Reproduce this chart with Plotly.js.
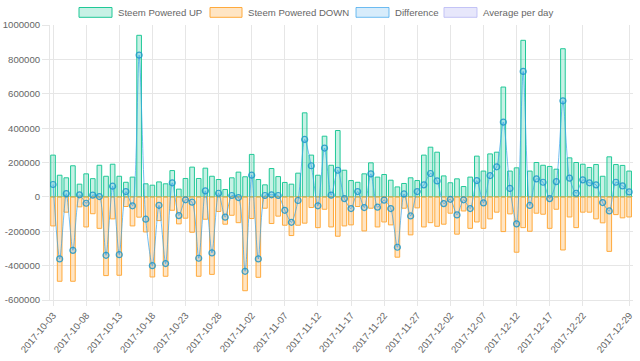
<!DOCTYPE html>
<html>
<head>
<meta charset="utf-8">
<script src="https://cdn.plot.ly/plotly-3.0.1.min.js"></script>
<style>
html,body{margin:0;padding:0;background:#fff;}
#chart{width:640px;height:361px;}
</style>
</head>
<body>
<div id="chart"></div>
<script>
// ---------- data ----------
var dates = [
 '2017-10-03','2017-10-04','2017-10-05','2017-10-06','2017-10-07','2017-10-08','2017-10-09','2017-10-10','2017-10-11','2017-10-12',
 '2017-10-13','2017-10-14','2017-10-15','2017-10-16','2017-10-17','2017-10-18','2017-10-19','2017-10-20','2017-10-21','2017-10-22',
 '2017-10-23','2017-10-24','2017-10-25','2017-10-26','2017-10-27','2017-10-28','2017-10-29','2017-10-30','2017-10-31',
 '2017-11-01','2017-11-02','2017-11-03','2017-11-04','2017-11-05','2017-11-06','2017-11-07','2017-11-08','2017-11-09','2017-11-10',
 '2017-11-11','2017-11-12','2017-11-13','2017-11-14','2017-11-15','2017-11-16','2017-11-17','2017-11-18','2017-11-19','2017-11-20',
 '2017-11-21','2017-11-22','2017-11-23','2017-11-24','2017-11-25','2017-11-26','2017-11-27','2017-11-28','2017-11-29','2017-11-30',
 '2017-12-01','2017-12-02','2017-12-03','2017-12-04','2017-12-05','2017-12-06','2017-12-07','2017-12-08','2017-12-09','2017-12-10',
 '2017-12-11','2017-12-12','2017-12-13','2017-12-14','2017-12-15','2017-12-16','2017-12-17','2017-12-18','2017-12-19','2017-12-20',
 '2017-12-21','2017-12-22','2017-12-23','2017-12-24','2017-12-25','2017-12-26','2017-12-27','2017-12-28','2017-12-29'
];

var poweredUp = [
 243000,126000,111000,181000,74000,134000,106000,184000,120000,190000,
 120000,85000,115000,940000,76000,68000,87000,76000,153000,45000,
 107000,173000,107000,167000,120000,101000,43000,111000,144000,
 117000,247000,101000,70000,165000,118000,84000,74000,138000,489000,
 243000,126000,353000,184000,386000,155000,95000,85000,134000,198000,
 115000,130000,97000,58000,78000,111000,95000,243000,289000,260000,
 122000,82000,105000,60000,115000,237000,150000,250000,260000,639000,
 150000,169000,911000,150000,200000,184000,177000,161000,862000,227000,
 200000,190000,171000,188000,120000,233000,188000,183000,150000
];

var poweredDown = [
 -169000,-491000,-89000,-491000,-58000,-175000,-98000,-183000,-458000,-128000,
 -456000,-56000,-169000,-118000,-204000,-466000,-138000,-462000,-78000,-157000,
 -124000,-206000,-462000,-130000,-451000,-85000,-159000,-107000,-150000,
 -546000,-126000,-468000,-66000,-155000,-112000,-165000,-225000,-165000,-153000,
 -62000,-179000,-72000,-175000,-229000,-169000,-163000,-56000,-198000,-66000,
 -175000,-146000,-163000,-351000,-66000,-221000,-64000,-175000,-150000,-171000,
 -159000,-95000,-217000,-82000,-183000,-146000,-183000,-128000,-89000,-202000,
 -99000,-322000,-179000,-200000,-95000,-101000,-183000,-72000,-309000,-117000,
 -179000,-89000,-89000,-128000,-151000,-317000,-103000,-122000,-117000
];

var difference = [
 72000,-361000,19000,-311000,12000,-37000,10000,2000,-340000,62000,
 -336000,31000,-52000,825000,-130000,-400000,-49000,-388000,82000,-109000,
 -17000,-31000,-357000,35000,-326000,21000,-118000,8000,-4000,
 -433000,126000,-361000,8000,12000,8000,-78000,-148000,-21000,334000,
 181000,-52000,284000,10000,155000,-10000,-68000,31000,-62000,134000,
 -60000,-19000,-68000,-293000,17000,-111000,31000,70000,136000,93000,
 -39000,-14000,-105000,-17000,-68000,95000,-35000,124000,175000,435000,
 49000,-157000,730000,-50000,105000,85000,-10000,89000,559000,109000,
 21000,99000,82000,70000,-33000,-82000,85000,64000,29000
];

var xTickDates = ['2017-10-03','2017-10-08','2017-10-13','2017-10-18','2017-10-23','2017-10-28',
 '2017-11-02','2017-11-07','2017-11-12','2017-11-17','2017-11-22','2017-11-27',
 '2017-12-02','2017-12-07','2017-12-12','2017-12-17','2017-12-22','2017-12-29'];

var yTickVals = [-600000,-400000,-200000,0,200000,400000,600000,800000,1000000];
var yTickText = ['-600000','-400000','-200000','0','200000','400000','600000','800000','1000000'];

var legendNames = ['Steem Powered UP','Steem Powered DOWN','Difference','Average per day'];

// ---------- styles ----------
var FONT = 'Liberation Sans, Arial, Helvetica, sans-serif';
var TXT = '#666666';
var GRID = '#e6e6e6';
var upLine = 'rgb(32,201,151)', upFill = 'rgba(32,201,151,0.25)';
var dnLine = 'rgb(255,170,60)', dnFill = 'rgba(255,170,60,0.3)';
var dfLine = 'rgba(54,162,235,0.7)', dfFill = 'rgba(54,162,235,0.2)', dfMark = 'rgba(30,150,200,0.85)';
var avLine = 'rgba(190,190,245,0.9)', avFill = 'rgba(225,225,250,0.8)';

var W = 640, H = 361;
var M = {l: 50, r: 7, t: 25, b: 61};
var pw = W - M.l - M.r, ph = H - M.t - M.b;
function px2x(p){ return (p - M.l) / pw; }
function px2y(p){ return (H - M.b - p) / ph; }

var DAY = 86400000;

var traces = [
  {type:'bar', x: dates, y: poweredUp, name: legendNames[0], width: 0.7*DAY,
   marker:{color: upFill, line:{color: upLine, width:1}}},
  {type:'bar', x: dates, y: poweredDown, name: legendNames[1], width: 0.7*DAY,
   marker:{color: dnFill, line:{color: dnLine, width:1}}},
  {type:'scatter', mode:'lines+markers', x: dates, y: difference, name: legendNames[2],
   line:{color: dfLine, width:1, shape:'spline', smoothing:0.7},
   marker:{symbol:'circle', size:6, color:'rgba(54,162,235,0.22)', line:{color: dfMark, width:1.2}}}
];

// legend drawn Chart.js style (wide boxes)
var legBoxes = [[79,112],[210,242],[356,389],[444,477]];
var legColors = [[upFill,upLine],[dnFill,dnLine],[dfFill,dfLine],[avFill,avLine]];
var shapes = [], annotations = [];
for (var i=0;i<legBoxes.length;i++){
  shapes.push({type:'rect', xref:'paper', yref:'paper',
    x0: px2x(legBoxes[i][0]), x1: px2x(legBoxes[i][1]),
    y0: px2y(17.3), y1: px2y(7.5),
    fillcolor: legColors[i][0], line:{color: legColors[i][1], width:1}});
  annotations.push({xref:'paper', yref:'paper', x: px2x(legBoxes[i][1]+3.5), y: px2y(12.4),
    xanchor:'left', yanchor:'middle', showarrow:false, text: legendNames[i],
    font:{family: FONT, size: 9.6, color: TXT}});
}

var layout = {
  width: W, height: H,
  margin: M,
  paper_bgcolor:'#fff', plot_bgcolor:'#fff',
  showlegend:false,
  barmode:'relative',
  font:{family: FONT, size: 9.6, color: TXT},
  xaxis:{
    type:'date',
    range:['2017-10-02 13:00','2017-12-29 14:00'],
    tickmode:'array', tickvals: xTickDates, ticktext: xTickDates,
    tickangle:-50,
    showgrid:true, gridcolor: GRID, gridwidth:1,
    ticks:'outside', ticklen:5, tickcolor: GRID,
    zeroline:false, showline:true, linecolor: GRID,
    tickfont:{family: FONT, size: 9.6, color: TXT}
  },
  yaxis:{
    range:[-600000,1000000],
    tickmode:'array', tickvals: yTickVals, ticktext: yTickText,
    showgrid:true, gridcolor: GRID, gridwidth:1,
    ticks:'outside', ticklen:7, tickcolor: GRID,
    zeroline:true, zerolinecolor:'#cccccc', zerolinewidth:1,
    showline:true, linecolor: GRID,
    tickfont:{family: FONT, size: 9.6, color: TXT}
  },
  shapes: shapes,
  annotations: annotations
};

Plotly.newPlot('chart', traces, layout, {displayModeBar:false, staticPlot:true});
</script>
</body>
</html>
